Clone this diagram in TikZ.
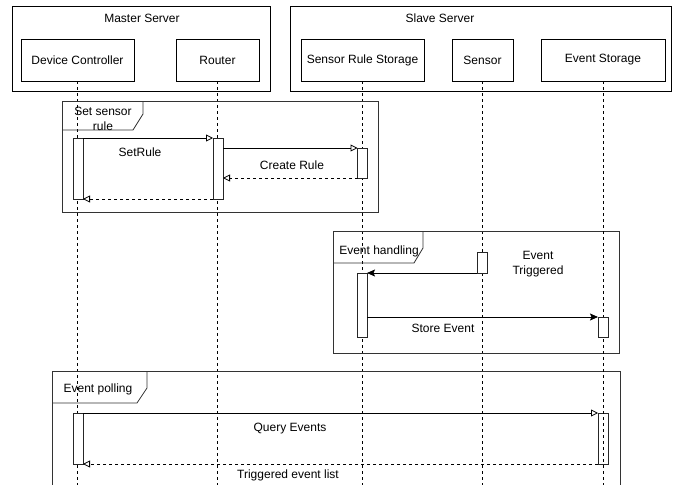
\documentclass[tikz,border=0pt]{standalone}
\usepackage{fontspec}
\setmainfont{Liberation Sans}
\usetikzlibrary{arrows.meta}
\begin{document}
\begin{tikzpicture}[x=1pt,y=-1pt,
  every node/.style={font=\fontsize{12}{15}\selectfont},
  lw/.style={line width=0.8pt},
  grp/.style={lw,draw=black,anchor=north west,inner sep=0pt,outer sep=0pt},
  head/.style={lw,draw=black,fill=white,inner sep=0pt,outer sep=0pt},
  life/.style={lw,dash pattern=on 3pt off 3pt},
  act/.style={lw,draw=black!85,fill=white,inner sep=0pt,outer sep=0pt,minimum width=10pt},
  actclear/.style={lw,draw=black!85,inner sep=0pt,outer sep=0pt,minimum width=10pt},
  frame/.style={lw,draw=black!80},
  msg/.style={lw,-{Triangle[open,length=7pt,width=7pt]}},
  msgf/.style={lw,-{Stealth[length=8pt,width=7pt,inset=1.5pt]}},
  ret/.style={lw,dash pattern=on 3pt off 3pt,-{Triangle[open,length=7pt,width=7pt]}},
  lbl/.style={align=center,inner sep=0pt}]
\clip (0,0) rectangle (673,485);
\fill[white] (0,0) rectangle (673,485);

% server groups
\draw[lw] (12,6) rectangle (270,91);
\node[lbl] (mastert) at (142,18) {Master Server};
\draw[lw] (290,6) rectangle (671.5,91);
\node[lbl] (slavet) at (440,18) {Slave Server};

% heads
\node[head,minimum width=113pt,minimum height=42pt] (dc) at (77.5,60) {Device Controller};
\node[head,minimum width=83pt,minimum height=42pt] (rt) at (217.5,60) {Router};
\node[head,minimum width=123pt,minimum height=42pt] (srs) at (362.5,60) {Sensor Rule Storage};
\node[head,minimum width=61pt,minimum height=42pt] (sen) at (482.5,60) {Sensor};
\node[head,minimum width=124pt,minimum height=42pt] (es) at (603,60) {Event Storage};

% lifelines
\coordinate (dcend) at (77.5,490);
\coordinate (rtend) at (217.5,490);
\coordinate (srsend) at (362.5,490);
\coordinate (senend) at (482.5,490);
\coordinate (esend) at (603,490);
\draw[life] (dc.south) -- (dcend);
\draw[life] (rt.south) -- (rtend);
\draw[life] (srs.south) -- (srsend);
\draw[life] (sen.south) -- (senend);

% ---- Set sensor rule frame
\draw[frame] (62,101) rectangle (378,212);
\draw[frame] (62,130) -- (133,130) -- (143,114) -- (143,101);
\node[lbl] (f1) at (103,119) {Set sensor\\rule};

\node[act,minimum height=61pt] (dca1) at (78,168.5) {};
\node[act,minimum height=61pt] (rta1) at (218,168.5) {};
\node[act,minimum height=30pt] (sra1) at (362.5,163) {};

\draw[msg] (dca1.north east) -- (rta1.north west);
\node[lbl] (l1) at (140,152) {SetRule};
\draw[msg] (sra1.north west -| rta1.east) -- (sra1.north west);
\node[lbl] (l2) at (292,165) {Create Rule};
\draw[ret] (sra1.south west) -- (sra1.south west -| rta1.east);
\draw[ret] (rta1.south west) -- (dca1.south east);

% ---- Event handling frame
\draw[frame] (333,231) rectangle (619,353);
\draw[frame] (333,263) -- (414,263) -- (423,248) -- (423,231);
\node[lbl] (f2) at (379,251) {Event handling};

\node[act,minimum height=21pt] (sena) at (482,262.5) {};
\node[act,minimum height=64pt] (sra2) at (362,305) {};
\node[act,minimum height=20pt] (esa2) at (603,327) {};

\draw[msgf] (sena.south west) -- (sra2.north east);
\node[lbl] (l3) at (538,264) {Event\\Triggered};
\draw[msgf] (esa2.north west -| sra2.east) -- (esa2.north west);
\node[lbl] (l4) at (443,328) {Store Event};

% ---- Event polling frame
\draw[frame] (52,500) -- (52,371) -- (620,371) -- (620,500);
\draw[frame] (52,403) -- (137,403) -- (147,388) -- (147,371);
\node[lbl] (f3) at (98,389) {Event polling};

\node[act,minimum height=51pt] (dca3) at (78,438.5) {};
\node[actclear,minimum height=51pt] (esa3) at (603,438.5) {};

\draw[msg] (dca3.north east) -- (esa3.north west);
\node[lbl] (l5) at (290,429) {Query Events};
\draw[ret] (esa3.south west) -- (dca3.south east);
\node[lbl] (l6) at (288,475) {Triggered event list};

% Event Storage lifeline drawn on top
\draw[life] (es.south) -- (esend);
\draw[act] (esa2.north west) rectangle (esa2.south east);
\end{tikzpicture}
\end{document}
